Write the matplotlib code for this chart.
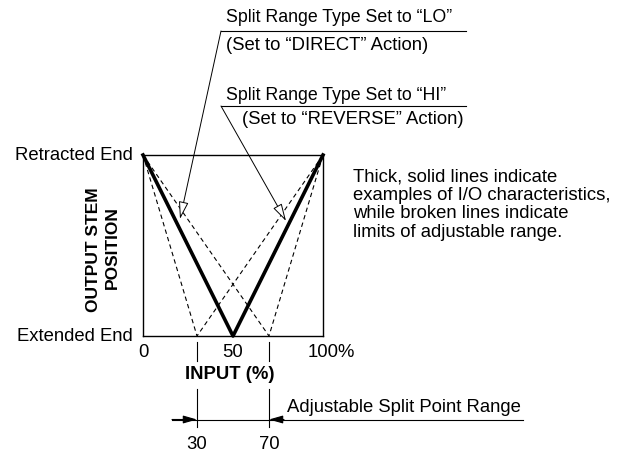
import matplotlib.pyplot as plt
import matplotlib.transforms as mtransforms

plt.rcParams['font.family'] = ['Liberation Sans', 'DejaVu Sans']

# input (%) -> output stem position (1 = retracted end, 0 = extended end)
solid_x = [0, 50, 100]
solid_y = [1, 0, 1]
limit_lo_x = [0, 30, 100]
limit_lo_y = [1, 0, 1]
limit_hi_x = [0, 70, 100]
limit_hi_y = [1, 0, 1]
split_points = [30, 70]
x_ticks = [0, 50, 100]
x_tick_labels = ['0', '50', '100%']
note_lines = ['Thick, solid lines indicate',
              'examples of I/O characteristics,',
              'while broken lines indicate',
              'limits of adjustable range.']

W, H = 626, 452
fig = plt.figure(figsize=(W / 100, H / 100), dpi=100)

ax = fig.add_axes([143 / W, (H - 337) / H, 180 / W, 181 / H])
ax.plot(limit_lo_x, limit_lo_y, color='black', lw=0.8, ls=(0, (4, 3)))
ax.plot(limit_hi_x, limit_hi_y, color='black', lw=0.8, ls=(0, (4, 3)))
ax.plot(solid_x, solid_y, color='black', lw=2.6, clip_on=False)
ax.set_xlim(0, 100)
ax.set_ylim(0, 1)
ax.set_xticks([])
ax.set_yticks([])
for s in ax.spines.values():
    s.set_linewidth(1.0)

# overlay in pixel coords for the annotations
ov = fig.add_axes([0, 0, 1, 1], zorder=5)
ov.set_xlim(0, W)
ov.set_ylim(H, 0)
ov.axis('off')
bt = mtransforms.blended_transform_factory(ax.transData, ov.transData)

fs = 13.3
fs_top = 12.8

# x tick labels
for xv, lab in zip(x_ticks, x_tick_labels):
    if lab.endswith('%'):
        tr = mtransforms.offset_copy(bt, fig=fig, x=-15, y=0, units='dots')
        ov.text(xv, 353, lab, transform=tr, ha='left', va='center', fontsize=fs)
    else:
        ov.text(xv, 353, lab, transform=bt, ha='center', va='center', fontsize=fs)

for sp in split_points:
    ov.plot([sp, sp], [343, 362], color='black', lw=0.8, transform=bt)
    ov.plot([sp, sp], [390, 428], color='black', lw=0.8, transform=bt)
    ov.text(sp, 445, str(sp), transform=bt, ha='center', va='center', fontsize=fs)

ov.text(230, 375, 'INPUT (%)', ha='center', va='center', fontsize=fs, fontweight='bold')

# adjustable split point range
arr = dict(arrowstyle='-|>,head_length=0.7,head_width=0.2', lw=0.8, color='black',
           mutation_scale=12, shrinkA=0, shrinkB=0)
ov.plot([172, 523], [420.5, 420.5], color='black', lw=0.8)
ov.annotate('', xy=(split_points[0], 420.5), xytext=(172, 420.5),
            xycoords=bt, textcoords=ov.transData, arrowprops=arr)
ov.annotate('', xy=(split_points[1], 420.5), xytext=(284, 420.5),
            xycoords=bt, textcoords=ov.transData, arrowprops=arr)
ov.text(287, 408, 'Adjustable Split Point Range', ha='left', va='center', fontsize=fs)

# y labels
ov.text(133, 156, 'Retracted End', ha='right', va='center', fontsize=fs)
ov.text(133, 337, 'Extended End', ha='right', va='center', fontsize=fs)
ov.text(93, 250, 'OUTPUT STEM', ha='center', va='center', rotation=90,
        fontsize=12.5, fontweight='bold')
ov.text(112, 248, 'POSITION', ha='center', va='center', rotation=90,
        fontsize=12.5, fontweight='bold')

# callouts
carr = dict(arrowstyle='-|>,head_length=0.9,head_width=0.25', lw=0.7, color='black',
            fc='white', mutation_scale=12, shrinkA=0, shrinkB=0)
ov.text(226, 18, 'Split Range Type Set to \u201cLO\u201d', ha='left', va='center', fontsize=fs_top)
ov.plot([221, 466], [32, 32], color='black', lw=0.8)
ov.text(226, 46, '(Set to \u201cDIRECT\u201d Action)', ha='left', va='center', fontsize=fs)
ov.annotate('', xy=(180, 220), xytext=(221, 32), arrowprops=carr)

ov.text(226, 95, 'Split Range Type Set to \u201cHI\u201d', ha='left', va='center', fontsize=fs_top)
ov.plot([221, 466], [107, 107], color='black', lw=0.8)
ov.text(242, 120, '(Set to \u201cREVERSE\u201d Action)', ha='left', va='center', fontsize=fs)
ov.annotate('', xy=(286, 222), xytext=(221, 107), arrowprops=carr)

for i, line in enumerate(note_lines):
    ov.text(353, 177 + 18.4 * i, line, ha='left', va='center', fontsize=fs)

fig.savefig('out.png', dpi=100)
